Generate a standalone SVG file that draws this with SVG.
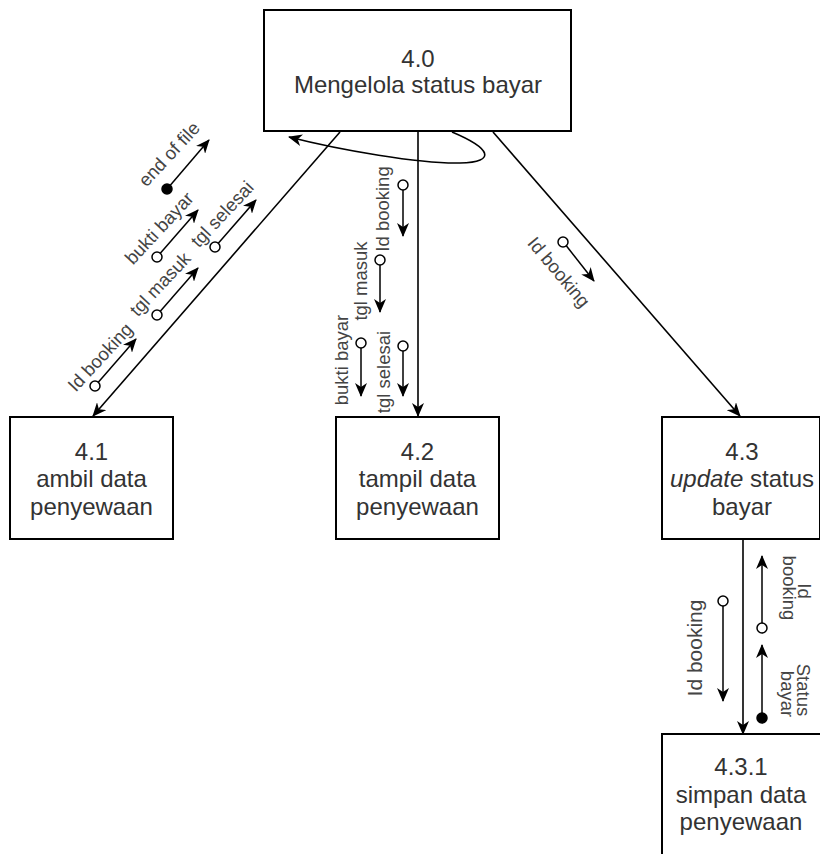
<svg xmlns="http://www.w3.org/2000/svg" width="820" height="854" viewBox="0 0 820 854">
<style>
.box{fill:#fff;stroke:#000;stroke-width:2}
.bt{font-family:"Liberation Sans",Arial,sans-serif;font-size:24px;fill:#333;text-anchor:middle}
.lb{font-family:"Liberation Sans",Arial,sans-serif;font-size:18.5px;fill:#444;text-anchor:middle;dominant-baseline:central}
.ln{fill:none;stroke:#000;stroke-width:1.6}
.sa{fill:none;stroke:#000;stroke-width:1.5}
.oc{fill:#fff;stroke:#000;stroke-width:1.5}
.fc{fill:#000;stroke:#000;stroke-width:1.5}
</style>
<defs>
<marker id="ah" markerUnits="userSpaceOnUse" markerWidth="16" markerHeight="12" refX="13" refY="6" orient="auto">
<path d="M0,0 L14,6 L0,12 L4,6 z" fill="#000"/>
</marker>
<marker id="sh" markerUnits="userSpaceOnUse" markerWidth="16" markerHeight="12" refX="13" refY="6" orient="auto">
<path d="M0,0 L14,6 L0,12 L4,6 z" fill="#000"/>
</marker>
</defs>
<rect width="820" height="854" fill="#fff"/>

<g id="connectors">
<path class="ln" d="M340,132 L93,416" marker-end="url(#ah)"/>
<path class="ln" d="M418,132 L418,416" marker-end="url(#ah)"/>
<path class="ln" d="M493,132 L740,416" marker-end="url(#ah)"/>
<path class="ln" d="M452,132 C490,148 498,162 460,163 C420,164 340,150 289,137" marker-end="url(#ah)"/>
<path class="ln" d="M743,540 L743,734" marker-end="url(#ah)"/>
</g>

<g id="flow-labels">
<g id="f41-idbooking"><circle class="oc" cx="95" cy="386" r="5"/><path class="sa" d="M98.3,382.2 L136,339" marker-end="url(#sh)"/><text class="lb" transform="translate(100,357) rotate(-47)">Id booking</text></g>
<g id="f41-tglmasuk"><circle class="oc" cx="157" cy="315" r="5"/><path class="sa" d="M160.3,311.2 L198,268" marker-end="url(#sh)"/><text class="lb" transform="translate(160,284) rotate(-47)">tgl masuk</text></g>
<g id="f41-buktibayar"><circle class="oc" cx="157" cy="257" r="5"/><path class="sa" d="M160.3,253.2 L198,210" marker-end="url(#sh)"/><text class="lb" transform="translate(159,228) rotate(-47)">bukti bayar</text></g>
<g id="f41-tglselesai"><circle class="oc" cx="215" cy="247" r="5"/><path class="sa" d="M218.3,243.2 L256,200" marker-end="url(#sh)"/><text class="lb" transform="translate(222,214) rotate(-47)">tgl selesai</text></g>
<g id="f41-eof"><circle class="fc" cx="167" cy="189" r="5"/><path class="sa" d="M170.3,185.2 L209,140" marker-end="url(#sh)"/><text class="lb" transform="translate(169,154) rotate(-47)">end of file</text></g>
<g id="f42-idbooking"><circle class="oc" cx="403" cy="185" r="5"/><path class="sa" d="M403,190 L403,236" marker-end="url(#sh)"/><text class="lb" transform="translate(382,209) rotate(-90)">Id booking</text></g>
<g id="f42-tglmasuk"><circle class="oc" cx="380" cy="260" r="5"/><path class="sa" d="M380,265 L380,312" marker-end="url(#sh)"/><text class="lb" transform="translate(360,281) rotate(-90)">tgl masuk</text></g>
<g id="f42-buktibayar"><circle class="oc" cx="361" cy="343" r="5"/><path class="sa" d="M361,348 L361,396" marker-end="url(#sh)"/><text class="lb" transform="translate(341,360) rotate(-90)">bukti bayar</text></g>
<g id="f42-tglselesai"><circle class="oc" cx="403" cy="346" r="5"/><path class="sa" d="M403,351 L403,396" marker-end="url(#sh)"/><text class="lb" transform="translate(383,372) rotate(-90)">tgl selesai</text></g>
<g id="f43-idbooking"><circle class="oc" cx="563" cy="242" r="5"/><path class="sa" d="M566.3,245.8 L594,281" marker-end="url(#sh)"/><text class="lb" transform="translate(559,272) rotate(50)">Id booking</text></g>
<g id="f431-idbooking"><circle class="oc" cx="723" cy="601" r="5"/><path class="sa" d="M723,606 L723,701" marker-end="url(#sh)"/><text class="lb" style="font-size:21px" transform="translate(694,648) rotate(-90)">Id booking</text></g>
<g id="f431-idbooking-up"><circle class="oc" cx="762" cy="628" r="5"/><path class="sa" d="M762,623 L762,556" marker-end="url(#sh)"/><text class="lb" transform="translate(804,591) rotate(90)">Id</text><text class="lb" transform="translate(789,588) rotate(90)">booking</text></g>
<g id="f431-status"><circle class="fc" cx="762" cy="718" r="5"/><path class="sa" d="M762,713 L762,645" marker-end="url(#sh)"/><text class="lb" transform="translate(803,690) rotate(90)">Status</text><text class="lb" transform="translate(787,694) rotate(90)">bayar</text></g>
</g>

<g id="node-4-0">
<rect class="box" x="264" y="10" width="307" height="121"/>
<text class="bt" x="418" y="67">4.0</text>
<text class="bt" x="418" y="93">Mengelola status bayar</text>
</g>
<g id="node-4-1">
<rect class="box" x="10" y="417" width="163" height="122"/>
<text class="bt" x="91.5" y="460">4.1</text>
<text class="bt" x="91.5" y="487">ambil data</text>
<text class="bt" x="91.5" y="515">penyewaan</text>
</g>
<g id="node-4-2">
<rect class="box" x="336" y="417" width="163" height="122"/>
<text class="bt" x="417.5" y="460">4.2</text>
<text class="bt" x="417.5" y="487">tampil data</text>
<text class="bt" x="417.5" y="515">penyewaan</text>
</g>
<g id="node-4-3">
<rect class="box" x="662" y="417" width="158" height="122"/>
<text class="bt" x="742" y="460">4.3</text>
<text class="bt" x="742" y="487"><tspan font-style="italic">update</tspan> status</text>
<text class="bt" x="742" y="515">bayar</text>
</g>
<g id="node-4-3-1">
<rect class="box" x="662" y="734" width="170" height="140"/>
<text class="bt" x="741" y="775">4.3.1</text>
<text class="bt" x="741" y="803">simpan data</text>
<text class="bt" x="741" y="830">penyewaan</text>
</g>
</svg>
